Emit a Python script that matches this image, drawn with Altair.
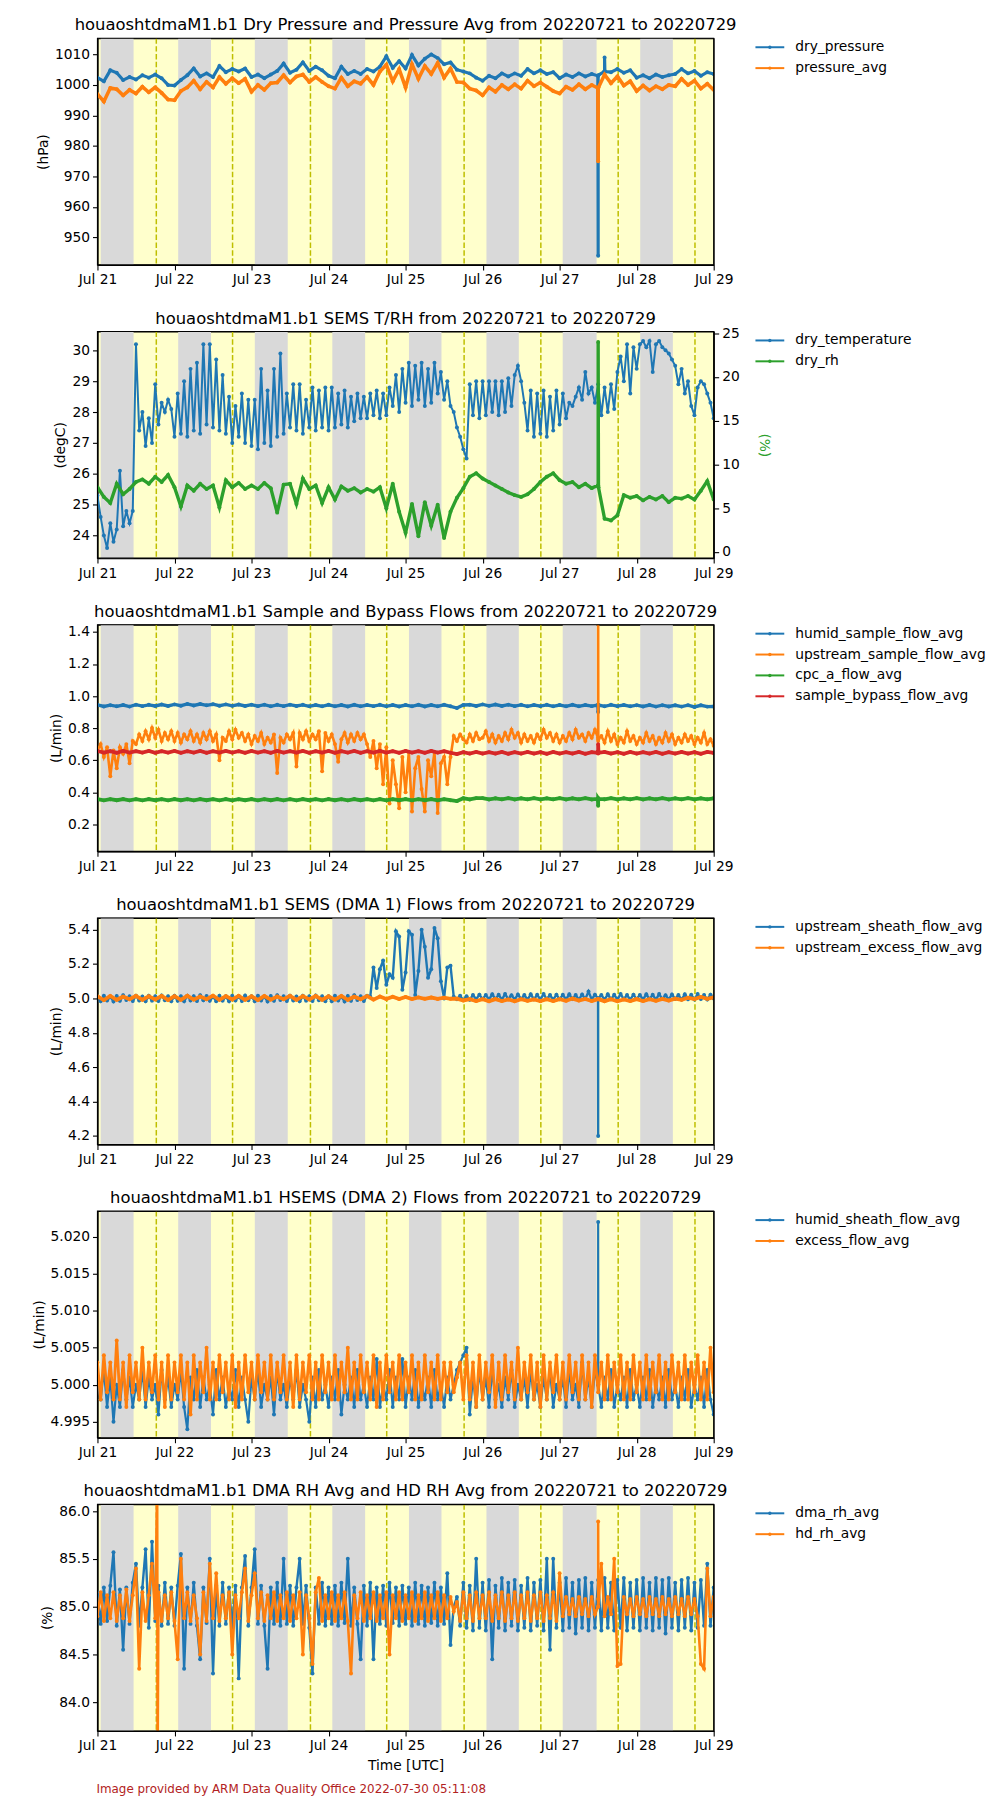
import altair as alt
import pandas as pd

T0 = int(pd.Timestamp("2022-07-21T00:00:00", tz="UTC").value // 10**6)
HOUR = 3600000
W, H = 620, 228
BLUE, ORANGE, GREEN, RED = "#1f77b4", "#ff7f0e", "#2ca02c", "#d62728"
FONT = "DejaVu Sans"

# ---- day / night shading (fractions of days after Jul 21 00:00 UTC)
night_start = [0.042, 1.048, 2.043, 3.049, 4.044, 5.050, 6.040, 7.046]
night_end = [0.469, 1.474, 2.470, 3.475, 4.466, 5.470, 6.480, 7.470]
noon_days = [0.764, 1.754, 2.765, 3.755, 4.760, 5.756, 6.760, 7.757]
tick_days = [0, 1, 2, 3, 4, 5, 6, 7, 8]

# ---- Panel 1 (2-hourly)
dry_pressure = [
    1002.4, 1001.2, 1004.8, 1004.0, 1001.6, 1002.6, 1001.8, 1003.2, 1002.4, 1003.4, 1002.2, 1000.0,
    999.8, 1001.6, 1003.2, 1005.4, 1002.8, 1003.8, 1002.6, 1006.2, 1004.2, 1005.2, 1004.4, 1005.4,
    1002.6, 1003.4, 1002.2, 1003.4, 1004.6, 1007.0, 1004.0, 1005.0, 1007.4, 1004.6, 1006.0, 1004.8,
    1003.0, 1002.2, 1006.0, 1003.6, 1004.6, 1003.6, 1005.2, 1004.4, 1006.0, 1009.4, 1005.6, 1007.8,
    1005.4, 1009.8, 1006.4, 1008.6, 1010.0, 1008.8, 1006.8, 1007.4, 1005.0, 1004.4, 1003.8, 1002.4,
    1001.4, 1003.0, 1002.2, 1003.8, 1002.8, 1003.8, 1003.0, 1005.2, 1003.8, 1004.8, 1003.6, 1004.2,
    1002.2, 1003.4, 1002.6, 1003.8, 1002.8, 1003.6, 1003.0, 1004.6, 1004.2, 1005.2, 1004.0, 1004.8,
    1002.4, 1003.2, 1002.2, 1003.4, 1002.6, 1003.2, 1003.6, 1005.2, 1003.8, 1004.6, 1003.0, 1004.2,
    1003.6]
dry_pressure_spikes = [(155.9, 1003.0), (156.0, 944.0), (156.1, 1003.2),
                       (157.9, 1004.4), (158.0, 1009.0), (158.1, 1004.4)]
pressure_avg = [
    997.0, 994.6, 999.0, 998.6, 996.6, 998.4, 997.2, 999.4, 997.6, 999.2, 997.4, 995.2,
    995.0, 998.0, 999.2, 1001.4, 998.6, 1001.0, 999.2, 1002.6, 1000.4, 1002.2, 1000.6, 1002.0,
    997.8, 1000.0, 998.4, 1000.6, 1000.8, 1003.2, 1000.8, 1002.8, 1003.4, 1001.0, 1002.6, 1001.0,
    999.6, 998.8, 1002.4, 999.6, 1001.2, 1000.4, 1002.6, 1000.0, 1004.4, 1006.6, 1001.2, 1005.2,
    999.2, 1006.8, 1002.0, 1006.2, 1003.6, 1007.2, 1002.4, 1005.4, 1001.0, 1000.8, 998.8, 998.2,
    996.6, 999.2, 997.8, 1000.0, 998.6, 1000.2, 998.8, 1001.4, 999.6, 1000.8, 999.4, 998.0,
    997.2, 999.4, 998.4, 1000.2, 998.6, 1000.0, 999.0, 1003.4, 1000.6, 1002.8, 999.8, 1001.2,
    998.0, 999.8, 998.2, 999.6, 998.6, 1000.0, 999.6, 1002.0, 1000.0, 1001.4, 998.8, 1000.4,
    998.4]
pressure_avg_spikes = [(155.9, 999.0), (156.0, 975.0), (156.1, 999.2)]

# ---- Panel 2
dry_temperature = [  # hourly
    25.3, 24.6, 24.0, 23.6, 24.4, 23.8, 24.2, 26.1, 24.3, 24.8, 24.4, 24.8, 30.2, 27.4, 28.0, 26.9, 27.8, 27.0, 28.9, 27.6, 28.3, 28.0, 28.4, 28.1,
    27.2, 28.6, 27.3, 29.0, 27.2, 29.4, 27.4, 29.6, 27.3, 30.2, 27.6, 30.2, 27.5, 29.7, 27.4, 29.2, 27.3, 28.5, 27.0, 28.2, 27.2, 28.6, 27.0, 28.4,
    26.9, 28.4, 26.8, 29.4, 27.0, 28.7, 26.9, 29.4, 27.2, 29.9, 27.3, 28.6, 27.5, 28.9, 27.4, 28.9, 27.3, 28.4, 27.5, 28.8, 27.4, 28.7, 27.5, 28.8,
    27.4, 28.8, 27.5, 28.6, 27.6, 28.7, 27.5, 28.5, 27.7, 28.6, 27.8, 28.5, 27.8, 28.6, 27.9, 28.7, 27.8, 28.6, 27.9, 28.8, 28.2, 29.2, 28.0, 29.4,
    28.3, 29.6, 28.2, 29.5, 28.4, 29.6, 28.2, 29.4, 28.3, 29.6, 28.6, 29.3, 28.4, 29.0, 28.2, 28.0, 27.5, 27.2, 26.8, 26.5, 28.9, 27.9, 29.0, 27.8,
    29.0, 27.9, 29.0, 28.0, 29.0, 27.9, 29.0, 28.0, 29.1, 28.2, 29.2, 29.5, 29.0, 28.3, 27.4, 28.7, 27.2, 28.6, 27.3, 28.7, 27.2, 28.5, 27.4, 28.7,
    27.6, 28.6, 27.8, 28.3, 28.2, 28.5, 28.8, 28.4, 29.3, 28.6, 28.8, 28.3, 28.9, 27.9, 28.8, 28.0, 28.9, 28.1, 29.3, 29.8, 29.0, 30.2, 28.6, 30.1,
    29.4, 30.2, 30.3, 30.1, 30.3, 29.3, 30.2, 30.3, 30.1, 30.0, 29.9, 29.7, 29.5, 28.9, 29.4, 28.6, 29.0, 28.2, 27.9, 28.8, 29.0, 28.9, 28.6, 28.3,
    27.8]
dry_rh = [  # 2-hourly
    7.4, 6.3, 5.6, 7.8, 6.6, 7.2, 8.0, 8.3, 7.8, 8.6, 8.0, 8.8,
    7.4, 5.2, 7.6, 7.0, 7.8, 7.2, 7.6, 5.1, 8.2, 7.4, 7.9, 7.2,
    7.6, 7.2, 7.9, 7.3, 4.5, 7.7, 7.8, 5.5, 8.4, 7.2, 7.6, 5.6,
    7.4, 6.0, 7.5, 7.0, 7.3, 6.8, 7.2, 6.9, 7.4, 5.0, 7.8, 4.6,
    2.2, 5.5, 1.8, 5.7, 3.0, 5.4, 1.6, 4.6, 6.2, 7.3, 8.6, 9.0,
    8.4, 8.0, 7.6, 7.2, 6.8, 6.5, 6.3, 6.6, 7.2, 8.0, 8.6, 9.0,
    8.2, 7.8, 8.0, 7.4, 7.8, 7.3, 7.6, 3.8, 3.6, 4.2, 6.5, 6.2,
    6.4, 5.9, 6.3, 6.0, 6.4, 5.7, 6.2, 6.1, 6.4, 6.0, 7.0, 8.1,
    6.0]
dry_rh_spikes = [(155.9, 7.6), (156.0, 24.0), (156.1, 7.4)]

# ---- Panel 3
humid_sample_flow_avg = [  # 2-hourly
    0.945, 0.935, 0.943, 0.936, 0.944, 0.934, 0.946, 0.937, 0.945, 0.938, 0.947, 0.938,
    0.948, 0.940, 0.951, 0.941, 0.950, 0.942, 0.949, 0.940, 0.948, 0.939, 0.947, 0.938,
    0.946, 0.937, 0.946, 0.936, 0.945, 0.937, 0.946, 0.938, 0.945, 0.936, 0.944, 0.936,
    0.945, 0.936, 0.944, 0.935, 0.945, 0.936, 0.944, 0.937, 0.945, 0.936, 0.944, 0.935,
    0.944, 0.936, 0.945, 0.935, 0.944, 0.936, 0.945, 0.936, 0.925, 0.944, 0.946, 0.938,
    0.948, 0.939, 0.947, 0.938, 0.946, 0.937, 0.945, 0.936, 0.944, 0.937, 0.945, 0.936,
    0.944, 0.936, 0.945, 0.936, 0.944, 0.937, 0.944, 0.936, 0.945, 0.937, 0.944, 0.936,
    0.943, 0.935, 0.944, 0.934, 0.943, 0.935, 0.942, 0.934, 0.943, 0.932, 0.942, 0.934,
    0.935]
humid_sample_spikes = [(155.9, 0.944), (156.0, 0.900), (156.1, 0.944)]
upstream_sample_flow_avg = [  # hourly
    0.66, 0.70, 0.62, 0.68, 0.50, 0.66, 0.55, 0.68, 0.64, 0.70, 0.58, 0.72, 0.70, 0.76, 0.72, 0.78, 0.73, 0.80, 0.74, 0.79, 0.72, 0.77, 0.73, 0.78,
    0.72, 0.77, 0.71, 0.76, 0.73, 0.78, 0.72, 0.76, 0.71, 0.77, 0.73, 0.78, 0.72, 0.76, 0.60, 0.74, 0.72, 0.78, 0.73, 0.79, 0.74, 0.77, 0.72, 0.76,
    0.70, 0.75, 0.72, 0.77, 0.70, 0.74, 0.71, 0.76, 0.52, 0.74, 0.71, 0.76, 0.73, 0.77, 0.56, 0.77, 0.73, 0.78, 0.72, 0.76, 0.73, 0.78, 0.53, 0.77,
    0.72, 0.76, 0.70, 0.59, 0.73, 0.77, 0.71, 0.76, 0.72, 0.77, 0.73, 0.76, 0.70, 0.62, 0.72, 0.55, 0.70, 0.45, 0.68, 0.33, 0.60, 0.45, 0.30, 0.62,
    0.40, 0.65, 0.28, 0.55, 0.62, 0.42, 0.28, 0.60, 0.50, 0.65, 0.27, 0.58, 0.62, 0.45, 0.62, 0.75, 0.72, 0.76, 0.73, 0.71, 0.76, 0.72, 0.77, 0.73,
    0.74, 0.78, 0.72, 0.76, 0.71, 0.75, 0.72, 0.77, 0.73, 0.79, 0.74, 0.77, 0.71, 0.76, 0.72, 0.75, 0.71, 0.76, 0.73, 0.79, 0.74, 0.77, 0.72, 0.76,
    0.71, 0.75, 0.72, 0.77, 0.73, 0.79, 0.74, 0.76, 0.72, 0.77, 0.74, 0.79, 0.72, 0.75, 0.71, 0.78, 0.72, 0.76, 0.70, 0.74, 0.71, 0.78, 0.72, 0.75,
    0.70, 0.74, 0.71, 0.77, 0.72, 0.75, 0.70, 0.74, 0.71, 0.77, 0.72, 0.76, 0.70, 0.74, 0.71, 0.76, 0.72, 0.75, 0.70, 0.74, 0.71, 0.77, 0.70, 0.73,
    0.69]
upstream_sample_spikes = [(155.95, 0.74), (156.0, 1.50), (156.05, 0.73)]
cpc_a_flow_avg = [  # 2-hourly
    0.357, 0.349, 0.356, 0.350, 0.357, 0.349, 0.356, 0.349, 0.357, 0.350, 0.356, 0.349,
    0.357, 0.350, 0.356, 0.349, 0.357, 0.350, 0.356, 0.349, 0.357, 0.349, 0.356, 0.350,
    0.357, 0.349, 0.356, 0.350, 0.357, 0.349, 0.356, 0.349, 0.357, 0.350, 0.356, 0.349,
    0.357, 0.350, 0.356, 0.349, 0.357, 0.350, 0.356, 0.349, 0.357, 0.349, 0.356, 0.350,
    0.357, 0.349, 0.356, 0.350, 0.357, 0.349, 0.356, 0.350, 0.345, 0.362, 0.355, 0.363,
    0.363, 0.355, 0.362, 0.356, 0.363, 0.355, 0.362, 0.356, 0.363, 0.355, 0.362, 0.356,
    0.363, 0.355, 0.362, 0.356, 0.363, 0.355, 0.362, 0.356, 0.363, 0.355, 0.362, 0.356,
    0.363, 0.355, 0.362, 0.356, 0.363, 0.355, 0.362, 0.356, 0.363, 0.355, 0.362, 0.356,
    0.362]
cpc_a_spikes = [(155.9, 0.359), (156.0, 0.315), (156.1, 0.359)]
sample_bypass_flow_avg = [  # 2-hourly
    0.657, 0.647, 0.656, 0.646, 0.657, 0.647, 0.656, 0.647, 0.657, 0.646, 0.656, 0.647,
    0.657, 0.646, 0.656, 0.647, 0.657, 0.646, 0.656, 0.647, 0.657, 0.647, 0.656, 0.646,
    0.657, 0.647, 0.656, 0.646, 0.657, 0.647, 0.656, 0.647, 0.657, 0.646, 0.656, 0.647,
    0.657, 0.646, 0.656, 0.647, 0.657, 0.646, 0.656, 0.647, 0.657, 0.647, 0.656, 0.646,
    0.657, 0.647, 0.656, 0.646, 0.657, 0.647, 0.656, 0.646, 0.638, 0.650, 0.641, 0.651,
    0.641, 0.650, 0.641, 0.651, 0.640, 0.650, 0.641, 0.651, 0.641, 0.650, 0.640, 0.651,
    0.641, 0.650, 0.641, 0.651, 0.640, 0.650, 0.641, 0.651, 0.641, 0.650, 0.640, 0.651,
    0.641, 0.650, 0.641, 0.651, 0.640, 0.650, 0.641, 0.651, 0.641, 0.650, 0.640, 0.651,
    0.645]
sample_bypass_spikes = [(155.9, 0.646), (156.0, 0.700), (156.1, 0.646)]

# ---- Panel 4
upstream_sheath_flow_avg = [  # hourly
    5.012, 4.984, 5.015, 4.988, 5.010, 4.982, 5.014, 4.986, 5.018, 4.990, 5.012, 4.985, 5.016, 4.988, 5.011, 4.983, 5.015, 4.987, 5.013, 4.985, 5.017, 4.989, 5.012, 4.984,
    5.015, 4.986, 5.012, 4.983, 5.016, 4.988, 5.013, 4.985, 5.018, 4.989, 5.014, 4.986, 5.011, 4.984, 5.015, 4.987, 5.012, 4.983, 5.016, 4.988, 5.013, 4.985, 5.017, 4.989,
    5.012, 4.984, 5.015, 4.988, 5.010, 4.982, 5.014, 4.986, 5.018, 4.990, 5.012, 4.985, 5.016, 4.988, 5.011, 4.983, 5.015, 4.987, 5.013, 4.985, 5.017, 4.989, 5.012, 4.984,
    5.012, 4.984, 5.015, 4.988, 5.010, 4.982, 5.014, 4.986, 5.018, 4.990, 5.012, 4.985, 5.016, 5.010, 5.180, 5.060, 5.170, 5.220, 5.080, 5.140, 5.120, 5.390, 5.360, 5.050,
    5.150, 5.390, 5.370, 5.020, 5.160, 5.400, 5.300, 5.120, 5.170, 5.410, 5.350, 5.100, 5.000, 5.180, 5.190, 5.010, 4.995, 5.015, 4.990, 5.012, 4.992, 5.020, 4.995, 5.022,
    4.996, 5.020, 4.994, 5.024, 4.997, 5.021, 4.993, 5.025, 4.996, 5.019, 4.994, 5.023, 4.997, 5.020, 4.993, 5.024, 4.995, 5.021, 4.994, 5.025, 4.996, 5.020, 4.993, 5.022,
    4.995, 5.021, 4.994, 5.024, 4.996, 5.020, 4.993, 5.023, 4.997, 5.040, 4.994, 5.022, 4.996, 5.020, 4.993, 5.024, 4.995, 5.021, 4.994, 5.025, 4.996, 5.020, 4.993, 5.022,
    4.996, 5.020, 4.994, 5.024, 4.997, 5.021, 4.993, 5.025, 4.996, 5.019, 4.994, 5.023, 4.997, 5.020, 4.993, 5.024, 4.995, 5.021, 4.994, 5.025, 4.996, 5.020, 4.993, 5.022,
    5.000]
upstream_sheath_spikes = [(155.95, 5.0), (156.0, 4.20), (156.05, 5.0)]
upstream_excess_flow_avg = [  # 2-hourly
    5.012, 4.990, 5.014, 4.992, 5.010, 4.995, 5.015, 4.992, 5.012, 4.994, 5.014, 4.991,
    5.013, 4.992, 5.015, 4.993, 5.011, 4.995, 5.016, 4.992, 5.013, 4.994, 5.015, 4.992,
    5.012, 4.991, 5.014, 4.993, 5.011, 4.995, 5.015, 4.992, 5.013, 4.994, 5.014, 4.992,
    5.012, 4.993, 5.014, 4.992, 5.010, 4.995, 5.013, 4.993, 5.011, 4.996, 5.010, 4.996,
    5.008, 4.996, 5.006, 4.998, 5.005, 4.997, 5.004, 4.998, 4.999, 4.988, 4.996, 4.985,
    4.995, 4.984, 4.996, 4.985, 4.994, 4.983, 4.995, 4.986, 4.994, 4.984, 4.995, 4.985,
    4.996, 4.986, 4.999, 4.988, 4.997, 4.985, 4.996, 4.984, 4.995, 4.983, 4.994, 4.985,
    4.996, 4.985, 4.995, 4.986, 4.997, 4.988, 4.999, 4.992, 5.004, 4.996, 5.008, 4.998,
    5.006]

# ---- Panel 5 (hourly)
humid_sheath_flow_avg = [
    5.001, 4.998, 5.002, 4.997, 5.001, 4.995, 5.000, 4.997, 5.002, 4.998, 5.001, 4.997, 5.000, 4.998, 5.002, 4.997, 5.001, 4.998, 5.000, 4.996, 5.002, 4.998, 5.001, 4.997,
    5.000, 4.998, 5.002, 4.997, 4.994, 5.001, 4.998, 5.002, 4.997, 5.001, 4.998, 5.000, 4.996, 5.002, 4.998, 5.001, 4.997, 5.000, 4.998, 5.002, 4.997, 5.001, 4.998, 4.995,
    5.001, 4.998, 5.002, 4.997, 5.000, 4.998, 5.001, 4.996, 5.002, 4.998, 5.000, 4.997, 5.001, 4.998, 5.002, 4.997, 5.000, 4.998, 4.995, 5.001, 4.997, 5.002, 4.998, 5.000,
    4.997, 5.001, 4.998, 5.002, 4.996, 5.000, 4.998, 5.001, 4.997, 5.002, 4.998, 5.000, 4.997, 5.001, 4.998, 5.0035, 4.997, 5.000, 4.998, 5.002, 4.997, 5.001, 4.998, 5.0035,
    4.997, 5.001, 4.998, 5.002, 4.997, 5.000, 4.998, 5.001, 4.997, 5.002, 4.998, 5.000, 4.997, 5.001, 4.998, 5.000, 5.002, 5.003, 5.004, 5.005, 4.996, 5.001, 4.997, 5.002,
    4.998, 5.001, 4.997, 5.002, 4.998, 5.000, 4.997, 5.001, 4.998, 5.002, 4.997, 5.000, 4.998, 5.001, 4.997, 5.002, 4.998, 5.000, 4.997, 5.001, 4.998, 5.002, 4.997, 5.000,
    4.998, 5.001, 4.997, 5.002, 4.998, 5.000, 4.997, 5.003, 4.998, 5.001, 4.997, 5.002, 5.000, 4.997, 5.001, 4.998, 5.002, 4.997, 5.000, 4.998, 5.001, 4.997, 5.002, 4.998,
    5.000, 4.997, 5.001, 4.998, 5.002, 4.997, 5.000, 4.998, 5.001, 4.997, 5.002, 4.998, 5.000, 4.997, 5.001, 4.998, 5.002, 4.997, 5.000, 4.998, 5.001, 4.997, 5.002, 4.998,
    4.996]
humid_sheath_spikes = [(155.95, 5.000), (156.0, 5.022), (156.05, 5.000)]
excess_flow_avg = [
    5.003, 4.998, 5.004, 4.999, 5.003, 4.998, 5.006, 4.998, 5.003, 4.997, 5.004, 4.999, 5.003, 4.998, 5.005, 4.998, 5.003, 4.999, 5.004, 4.998, 5.003, 4.997, 5.004, 4.998,
    5.003, 4.999, 5.004, 4.998, 5.003, 4.996, 5.004, 4.998, 5.003, 4.999, 5.005, 4.998, 5.003, 4.998, 5.004, 4.999, 5.003, 4.998, 5.004, 4.997, 5.003, 4.998, 5.004, 4.999,
    5.003, 4.998, 5.004, 4.999, 5.003, 4.998, 5.004, 4.998, 5.003, 4.999, 5.004, 4.998, 5.003, 4.997, 5.004, 4.998, 5.003, 4.999, 5.004, 4.998, 5.003, 4.998, 5.004, 4.999,
    5.003, 4.998, 5.004, 4.998, 5.003, 4.999, 5.005, 4.998, 5.003, 4.998, 5.004, 4.999, 5.003, 4.998, 5.004, 4.997, 5.003, 4.998, 5.004, 4.999, 5.003, 4.998, 5.004, 4.998,
    5.003, 4.999, 5.004, 4.998, 5.003, 4.998, 5.004, 4.999, 5.003, 4.998, 5.004, 4.998, 5.003, 4.999, 5.003, 4.999, 5.001, 5.003, 4.998, 5.004, 4.998, 5.003, 4.997, 5.004,
    4.998, 5.003, 4.999, 5.004, 4.997, 5.003, 4.998, 5.004, 4.999, 5.003, 4.998, 5.005, 4.998, 5.003, 4.999, 5.004, 4.998, 5.003, 4.997, 5.004, 4.998, 5.003, 4.999, 5.004,
    4.998, 5.003, 4.998, 5.004, 4.999, 5.003, 4.998, 5.004, 4.998, 5.003, 4.997, 5.004, 4.999, 5.003, 4.998, 5.004, 4.998, 5.003, 4.999, 5.004, 4.998, 5.003, 4.998, 5.004,
    4.999, 5.003, 4.998, 5.004, 4.998, 5.003, 4.999, 5.004, 4.998, 5.003, 4.998, 5.004, 4.999, 5.003, 4.998, 5.004, 4.998, 5.003, 4.999, 5.004, 4.998, 5.003, 4.998, 5.005,
    4.999]

# ---- Panel 6 (hourly)
dma_rh_avg = [
    85.15, 84.82, 85.20, 84.85, 85.22, 85.57, 84.80, 85.18, 84.55, 85.20, 84.82, 85.25, 85.45, 84.80, 85.20, 85.60, 84.78, 85.68, 84.85, 85.22, 84.80, 85.25, 84.82, 85.20,
    84.80, 85.22, 85.55, 84.35, 85.20, 84.82, 85.25, 84.80, 84.45, 85.20, 84.83, 85.50, 84.30, 85.22, 84.80, 85.25, 84.82, 85.20, 84.78, 85.22, 84.25, 85.20, 85.53, 84.80,
    85.20, 85.60, 84.82, 85.22, 84.80, 84.35, 85.20, 84.82, 85.25, 84.80, 85.50, 84.82, 85.22, 84.80, 85.20, 85.50, 84.82, 85.22, 84.78, 84.30, 85.20, 84.82, 85.25, 84.80,
    85.20, 84.82, 85.22, 84.80, 85.25, 84.83, 85.50, 84.80, 85.20, 84.82, 84.45, 85.22, 84.80, 85.25, 84.45, 85.20, 84.82, 85.22, 84.80, 85.25, 84.83, 85.20, 84.80, 85.22,
    84.82, 85.20, 84.80, 85.25, 84.82, 85.22, 84.80, 85.20, 84.83, 85.25, 84.80, 85.20, 84.82, 85.35, 84.60, 85.00, 85.10, 84.80, 85.25, 84.78, 85.22, 84.75, 85.50, 84.78,
    85.25, 84.75, 85.28, 84.45, 85.22, 84.78, 85.30, 84.75, 85.25, 84.80, 85.28, 84.75, 85.22, 84.78, 85.30, 84.75, 85.25, 84.80, 85.28, 84.75, 85.50, 84.55, 85.50, 84.78,
    85.25, 84.75, 85.30, 84.78, 85.25, 84.72, 85.28, 84.78, 85.30, 84.75, 85.25, 84.78, 85.28, 84.75, 85.30, 84.78, 85.25, 84.75, 85.28, 84.78, 85.30, 84.75, 85.25, 84.78,
    85.28, 84.75, 85.30, 84.78, 85.25, 84.75, 85.30, 84.78, 85.28, 84.72, 85.30, 84.78, 85.25, 84.75, 85.28, 84.78, 85.30, 84.75, 85.25, 84.78, 85.28, 84.80, 85.45, 84.80,
    85.20]
hd_rh_avg = [
    84.90, 85.15, 84.85, 85.12, 84.88, 85.15, 84.85, 85.12, 84.88, 85.18, 84.85, 85.12, 85.40, 84.35, 85.15, 84.85, 85.12, 85.45, 84.88, 85.15, 84.85, 85.12, 84.88, 85.15,
    84.85, 84.45, 85.50, 84.88, 85.15, 84.85, 85.12, 84.88, 84.50, 85.15, 84.85, 85.45, 84.88, 85.35, 84.85, 85.12, 84.88, 85.15, 84.50, 85.12, 84.88, 85.15, 85.40, 84.85,
    85.12, 85.35, 84.88, 85.15, 84.85, 85.12, 84.88, 85.15, 84.85, 85.12, 84.88, 85.15, 84.85, 85.12, 84.88, 85.15, 84.50, 85.12, 84.88, 84.40, 85.15, 85.30, 84.85, 85.12,
    84.88, 85.15, 84.85, 85.12, 84.88, 85.15, 84.85, 84.30, 85.12, 84.88, 85.15, 84.85, 85.12, 84.88, 85.15, 84.85, 85.12, 84.88, 85.15, 84.50, 85.12, 84.88, 85.15, 84.85,
    85.12, 84.88, 85.15, 84.85, 85.12, 84.88, 85.15, 84.85, 85.12, 84.88, 85.15, 84.85, 85.12, 84.88, 85.10, 84.95, 85.05, 84.85, 85.15, 84.88, 85.12, 84.85, 85.15, 84.88,
    85.12, 84.88, 85.15, 84.85, 85.12, 84.88, 85.15, 84.85, 85.12, 84.88, 85.15, 84.85, 85.12, 84.88, 85.15, 84.85, 85.12, 84.88, 85.15, 84.85, 85.12, 84.88, 85.15, 84.85,
    85.35, 84.90, 85.10, 84.92, 85.08, 84.90, 85.10, 84.92, 85.08, 84.90, 85.10, 84.92, 85.08, 85.45, 84.90, 85.10, 84.92, 85.50, 84.38, 84.40, 85.10, 84.92, 85.08, 84.90,
    85.10, 84.92, 85.08, 84.90, 85.10, 84.92, 85.08, 84.90, 85.10, 84.92, 85.08, 84.90, 85.10, 84.92, 85.08, 84.90, 85.10, 84.92, 85.08, 84.90, 84.40, 84.35, 85.40, 84.90,
    85.10]
hd_rh_spikes = [(18.6, 86.3), (18.75, 83.4), (155.95, 85.0), (156.0, 85.89), (156.05, 85.0)]

footer_text = "Image provided by ARM Data Quality Office 2022-07-30 05:11:08"


def mk(name, values, step, extra=()):
    pts = sorted([(i * step, v) for i, v in enumerate(values)] + list(extra))
    return pd.DataFrame({"t": [T0 + int(round(h * HOUR)) for h, _ in pts],
                         "v": [v for _, v in pts], "s": name})


night_df = pd.DataFrame({"t": [T0 + int(d * 24 * HOUR) for d in night_start],
                         "t2": [T0 + int(d * 24 * HOUR) for d in night_end]})
noon_df = pd.DataFrame({"t": [T0 + int(d * 24 * HOUR) for d in noon_days]})
one_row = pd.DataFrame({"k": [0]})

XSCALE = alt.Scale(type="utc", domain=[T0, T0 + 192 * HOUR], nice=False)


def xenc(title=None):
    ax = dict(values=[T0 + d * 24 * HOUR for d in tick_days], format="%b %d",
              labelFontSize=13.9, tickSize=5, labelPadding=3, grid=False,
              titleFontSize=13.9, titleFontWeight="normal", titlePadding=6,
              labelFlush=False, labelOverlap=False)
    ax["title"] = title
    return alt.X("t:T", scale=XSCALE, axis=alt.Axis(**ax))


def yaxis(values, fmt, title, orient="left", title_color="black", tpad=4):
    return alt.Axis(values=values, format=fmt, title=title, orient=orient,
                    labelFontSize=13.9, titleFontSize=13.9, titleFontWeight="normal",
                    titleColor=title_color, tickSize=5, labelPadding=3, titlePadding=tpad,
                    grid=False, labelFlush=False, labelOverlap=False)


def legend_layers(names, colors):
    out = []
    for i, (n, c) in enumerate(zip(names, colors)):
        yy = 9 + 21 * i
        d = pd.DataFrame({"name": [n]})
        out.append(alt.Chart(d).mark_rule(color=c, strokeWidth=2).encode(
            x=alt.value(662), x2=alt.value(691), y=alt.value(yy)))
        out.append(alt.Chart(d).mark_point(color=c, filled=True, size=12, opacity=1).encode(
            x=alt.value(676.5), y=alt.value(yy)))
        out.append(alt.Chart(d).mark_text(align="left", baseline="middle", fontSize=13.9,
                                          font=FONT, color="black").encode(
            x=alt.value(702), y=alt.value(yy), text="name:N"))
    return out


def base_layers(xtitle=None):
    bg = alt.Chart(night_df).mark_rect(color="#d9d9d9").encode(x=xenc(xtitle), x2="t2:T")
    noon = alt.Chart(noon_df).mark_rule(color="#bfbf00", strokeDash=[5.5, 2.4], strokeWidth=1.5).encode(x=xenc(xtitle))
    return [bg, noon]


def frame_layer():
    return alt.Chart(one_row).mark_rect(filled=False, color="black", strokeWidth=1.1).encode(
        x=alt.value(0), x2=alt.value(W), y=alt.value(0), y2=alt.value(H))


def series_layer(df, y, color, sw, xtitle=None):
    return alt.Chart(df).mark_line(
        color=color, strokeWidth=sw, clip=True,
        point=alt.OverlayMarkDef(color=color, filled=True, size=16, clip=True, opacity=1)
    ).encode(x=xenc(xtitle), y=y)


def title_layer(txt):
    return alt.Chart(pd.DataFrame({"txt": [txt]})).mark_text(
        align="center", baseline="alphabetic", fontSize=16.5, font=FONT, color="black"
    ).encode(x=alt.value(W / 2), y=alt.value(-8), text="txt:N")


def panel(ttl, dfs, widths, names, colors, ydom, yvals, yfmt, ytitle, xtitle=None, extra=()):
    y = alt.Y("v:Q", scale=alt.Scale(domain=ydom, nice=False, zero=False),
              axis=yaxis(yvals, yfmt, ytitle))
    layers = base_layers(xtitle) + [series_layer(d, y, c, sw, xtitle)
                                    for d, c, sw in zip(dfs, colors, widths)]
    layers += [frame_layer(), title_layer(ttl)] + legend_layers(names, colors) + list(extra)
    return alt.layer(*layers).properties(width=W, height=H)


tt = "from 20220721 to 20220729"

p1 = panel(f"houaoshtdmaM1.b1 Dry Pressure and Pressure Avg {tt}",
           [mk("dry_pressure", dry_pressure, 2, dry_pressure_spikes),
            mk("pressure_avg", pressure_avg, 2, pressure_avg_spikes)], [3.2, 3.6],
           ["dry_pressure", "pressure_avg"], [BLUE, ORANGE],
           [941.0, 1015.3], [950, 960, 970, 980, 990, 1000, 1010], "d", "(hPa)")

# panel 2: dual axis
y_left = alt.Y("v:Q", scale=alt.Scale(domain=[23.27, 30.61], nice=False, zero=False),
               axis=yaxis([24, 25, 26, 27, 28, 29, 30], "d", "(degC)"))
y_right = alt.Y("v:Q", scale=alt.Scale(domain=[-0.7, 25.2], nice=False, zero=False),
                axis=yaxis([0, 5, 10, 15, 20, 25], "d", "(%)", orient="right",
                           title_color=GREEN, tpad=17))
p2 = alt.layer(
    *base_layers(),
    series_layer(mk("dry_temperature", dry_temperature, 1), y_left, BLUE, 2.0),
    series_layer(mk("dry_rh", dry_rh, 2, dry_rh_spikes), y_right, GREEN, 3.4),
    frame_layer(),
    title_layer(f"houaoshtdmaM1.b1 SEMS T/RH {tt}"),
    *legend_layers(["dry_temperature", "dry_rh"], [BLUE, GREEN]),
).resolve_scale(y="independent").properties(width=W, height=H)

p3 = panel(f"houaoshtdmaM1.b1 Sample and Bypass Flows {tt}",
           [mk("humid_sample_flow_avg", humid_sample_flow_avg, 2, humid_sample_spikes),
            mk("upstream_sample_flow_avg", upstream_sample_flow_avg, 1, upstream_sample_spikes),
            mk("cpc_a_flow_avg", cpc_a_flow_avg, 2, cpc_a_spikes),
            mk("sample_bypass_flow_avg", sample_bypass_flow_avg, 2, sample_bypass_spikes)],
           [3.4, 2.6, 3.8, 3.8],
           ["humid_sample_flow_avg", "upstream_sample_flow_avg", "cpc_a_flow_avg", "sample_bypass_flow_avg"],
           [BLUE, ORANGE, GREEN, RED],
           [0.031, 1.445], [0.2, 0.4, 0.6, 0.8, 1.0, 1.2, 1.4], ".1f", "(L/min)")

p4 = panel(f"houaoshtdmaM1.b1 SEMS (DMA 1) Flows {tt}",
           [mk("upstream_sheath_flow_avg", upstream_sheath_flow_avg, 1, upstream_sheath_spikes),
            mk("upstream_excess_flow_avg", upstream_excess_flow_avg, 2)], [2.4, 3.8],
           ["upstream_sheath_flow_avg", "upstream_excess_flow_avg"], [BLUE, ORANGE],
           [4.15, 5.468], [4.2, 4.4, 4.6, 4.8, 5.0, 5.2, 5.4], ".1f", "(L/min)")

p5 = panel(f"houaoshtdmaM1.b1 HSEMS (DMA 2) Flows {tt}",
           [mk("humid_sheath_flow_avg", humid_sheath_flow_avg, 1, humid_sheath_spikes),
            mk("excess_flow_avg", excess_flow_avg, 1)], [2.2, 2.8],
           ["humid_sheath_flow_avg", "excess_flow_avg"], [BLUE, ORANGE],
           [4.99285, 5.02345], [4.995, 5.0, 5.005, 5.01, 5.015, 5.02], ".3f", "(L/min)")

footer = alt.Chart(pd.DataFrame({"txt": [footer_text]})).mark_text(
    align="left", baseline="middle", fontSize=12, font=FONT, color="#b22222"
).encode(x=alt.value(-1), y=alt.value(286), text="txt:N")

p6 = panel(f"houaoshtdmaM1.b1 DMA RH Avg and HD RH Avg {tt}",
           [mk("dma_rh_avg", dma_rh_avg, 1),
            mk("hd_rh_avg", hd_rh_avg, 1, hd_rh_spikes)], [2.4, 2.6],
           ["dma_rh_avg", "hd_rh_avg"], [BLUE, ORANGE],
           [83.70, 86.07], [84.0, 84.5, 85.0, 85.5, 86.0], ".1f", "(%)",
           xtitle="Time [UTC]", extra=[footer])

chart = alt.vconcat(p1, p2, p3, p4, p5, p6, spacing=22).properties(
    padding={"left": 23, "top": 3, "right": 5, "bottom": 5}
).configure(font=FONT).configure_view(
    fill="#ffffcc", stroke="black", strokeWidth=1.1
).configure_axis(
    domainColor="black", tickColor="black", labelColor="black", titleColor="black",
    labelFont=FONT, titleFont=FONT, domainWidth=1.1, tickWidth=1.1
)

chart.save("out.html", embed_options={"renderer": "svg", "actions": False})
